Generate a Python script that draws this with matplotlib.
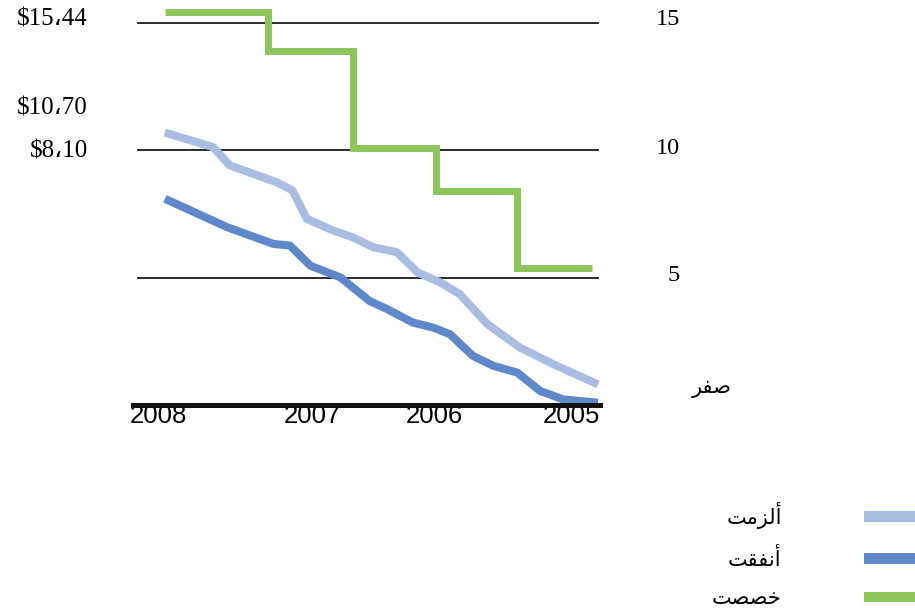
import matplotlib
matplotlib.use("Agg")
import matplotlib.pyplot as plt
from matplotlib.patches import Patch

# Position along the time axis, in months counted back from the end of the period
committed_months = [36.0, 32.0, 30.6, 26.7, 25.4, 24.2, 22.0, 20.4, 18.7, 16.7,
                    15.0, 13.1, 11.5, 9.2, 6.5, 3.7, 0.0]
committed_values = [10.70, 10.13, 9.41, 8.75, 8.43, 7.31, 6.85, 6.59, 6.20, 6.00,
                    5.21, 4.81, 4.36, 3.18, 2.26, 1.60, 0.81]

spent_months = [36.0, 30.8, 27.0, 25.6, 23.9, 21.4, 19.0, 17.5, 15.4, 13.7,
                12.3, 10.4, 8.7, 6.7, 4.8, 2.9, 0.0]
spent_values = [8.10, 6.98, 6.33, 6.26, 5.47, 5.01, 4.09, 3.76, 3.24, 3.04,
                2.78, 1.93, 1.54, 1.27, 0.55, 0.22, 0.09]

allocated_months = [36.0, 27.4, 20.4, 13.5, 6.7, 0.5]
allocated_values = [15.44, 13.92, 10.10, 8.40, 5.40, 5.40]

year_labels = ["2008", "2007", "2006", "2005"]
year_positions = [36.5, 23.7, 13.6, 2.2]

y_ticks = [0, 5, 10, 15]
y_tick_labels = ["صفر", "5", "10", "15"]

series_names = ["ألزمت", "أنفقت", "خصصت"]
start_labels = ["$15،44", "$10،70", "$8،10"]

COL_COMMITTED = "#A9BDE3"
COL_SPENT = "#5E88C9"
COL_ALLOCATED = "#8CC658"

# --- minimal Arabic shaping (contextual forms + visual order) ---
# isolated, final, initial, medial; None where the letter does not join forward
ARABIC_FORMS = {
    "أ": ("\uFE83", "\uFE84", None, None),
    "ت": ("\uFE95", "\uFE96", "\uFE97", "\uFE98"),
    "خ": ("\uFEA5", "\uFEA6", "\uFEA7", "\uFEA8"),
    "ر": ("\uFEAD", "\uFEAE", None, None),
    "ز": ("\uFEAF", "\uFEB0", None, None),
    "ص": ("\uFEB9", "\uFEBA", "\uFEBB", "\uFEBC"),
    "ف": ("\uFED1", "\uFED2", "\uFED3", "\uFED4"),
    "ق": ("\uFED5", "\uFED6", "\uFED7", "\uFED8"),
    "ل": ("\uFEDD", "\uFEDE", "\uFEDF", "\uFEE0"),
    "م": ("\uFEE1", "\uFEE2", "\uFEE3", "\uFEE4"),
    "ن": ("\uFEE5", "\uFEE6", "\uFEE7", "\uFEE8"),
}


def shape_arabic(word):
    glyphs = []
    n = len(word)
    for i, ch in enumerate(word):
        if ch not in ARABIC_FORMS:
            glyphs.append(ch)
            continue
        iso, fin, ini, med = ARABIC_FORMS[ch]
        prev = word[i - 1] if i > 0 else None
        joins_prev = prev in ARABIC_FORMS and ARABIC_FORMS[prev][2] is not None
        joins_next = (i < n - 1 and word[i + 1] in ARABIC_FORMS and ini is not None)
        if joins_prev and joins_next:
            glyphs.append(med)
        elif joins_prev:
            glyphs.append(fin)
        elif joins_next:
            glyphs.append(ini)
        else:
            glyphs.append(iso)
    return "".join(reversed(glyphs))


W, H = 915, 611
fig = plt.figure(figsize=(W / 100, H / 100), dpi=100)
fig.patch.set_facecolor("white")

ax_left, ax_right, ax_bottom = 133, 600, 405
ax = fig.add_axes([ax_left / W, (H - ax_bottom) / H,
                   (ax_right - ax_left) / W, ax_bottom / H])
px_per_unit = 25.46
ax.set_ylim(0, ax_bottom / px_per_unit)
ax.set_xlim(38.65, -0.17)
for s in ax.spines.values():
    s.set_visible(False)
ax.set_facecolor("white")

# horizontal reference lines
x0 = (138 - ax_left) / (ax_right - ax_left)
x1 = (598 - ax_left) / (ax_right - ax_left)
for v in y_ticks[1:]:
    ax.axhline(v, xmin=x0, xmax=x1, color="#1a1a1a", lw=1.3, zorder=1)
ax.axhline(0, color="#111111", lw=3.6, zorder=6, clip_on=False)

# series
ax.plot(committed_months, committed_values, color=COL_COMMITTED, lw=5.8,
        solid_joinstyle="round", solid_capstyle="butt", zorder=3)
ax.plot(spent_months, spent_values, color=COL_SPENT, lw=5.8,
        solid_joinstyle="round", solid_capstyle="butt", zorder=4)
ax.plot(allocated_months, allocated_values, color=COL_ALLOCATED, lw=5.0,
        drawstyle="steps-post", solid_joinstyle="miter", solid_capstyle="butt",
        zorder=5)

# year axis
ax.set_xticks(year_positions)
ax.set_xticklabels(year_labels, family=["Liberation Sans", "DejaVu Sans"],
                   fontsize=18.5)
ax.tick_params(axis="x", length=0, pad=-1)
ax.set_yticks([])

serif = ["Liberation Serif", "DejaVu Sans"]

# value scale on the right
right_offsets = {0: (132, 17), 5: (80, 2), 10: (80, 1.7), 15: (80, 3.5)}
for v, lab in zip(y_ticks, y_tick_labels):
    dx, dy = right_offsets[v]
    is_word = not lab.isdigit()
    ax.annotate(shape_arabic(lab) if is_word else lab,
                xy=(1, v), xycoords=ax.get_yaxis_transform(),
                xytext=(dx, dy), textcoords="offset pixels",
                ha="right", va="center",
                family=["DejaVu Sans"] if is_word else serif,
                fontsize=15 if is_word else 17.5, annotation_clip=False)

# starting amounts on the left
starts = [(allocated_months[0], allocated_values[0], -8),
          (committed_months[0], committed_values[0], 24.5),
          (spent_months[0], spent_values[0], 47.5)]
for lab, (xm, yv, dy) in zip(start_labels, starts):
    ax.annotate(lab, xy=(xm, yv), xytext=(-77, dy), textcoords="offset pixels",
                ha="right", va="center", family=serif, fontsize=18,
                annotation_clip=False)

# legend: labels on the left, swatches on the right
handles = [Patch(facecolor=COL_COMMITTED, edgecolor="none"),
           Patch(facecolor=COL_SPENT, edgecolor="none"),
           Patch(facecolor=COL_ALLOCATED, edgecolor="none")]
fig.legend(handles, [shape_arabic(n) for n in series_names],
           loc="upper right", bbox_to_anchor=(966 / W, (H - 502) / H),
           frameon=False, markerfirst=False, handlelength=4.9, handleheight=0.42,
           handletextpad=3.95, labelspacing=0.9, borderpad=0, borderaxespad=0,
           prop={"family": "DejaVu Sans", "size": 15})

fig.savefig("out.png", dpi=100, facecolor="white")
